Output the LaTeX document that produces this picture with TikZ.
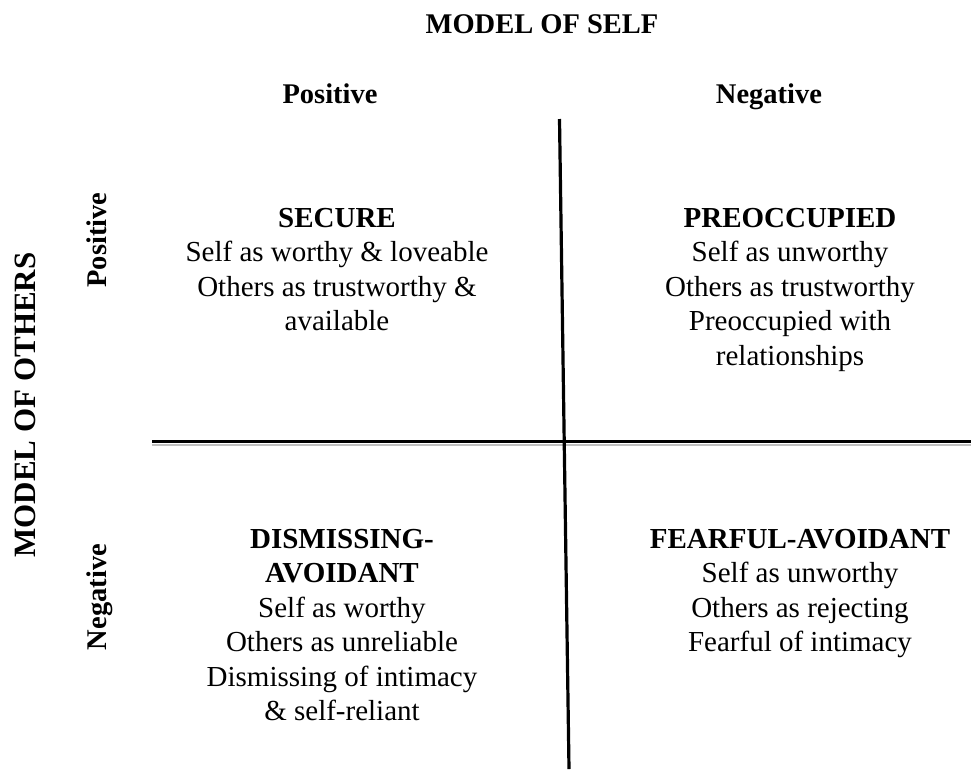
\documentclass[tikz,border=0pt]{standalone}
\usepackage{fontspec}
\setmainfont{Liberation Serif}
\begin{document}
\begin{tikzpicture}[x=1pt,y=-1pt,
  lbl/.style={inner sep=0pt, font=\fontsize{29}{34.5}\selectfont, align=center},
  hd/.style={inner sep=0pt, font=\fontsize{28.5}{34.5}\selectfont\bfseries, align=center},
  bighd/.style={inner sep=0pt, font=\fontsize{31}{36}\selectfont\bfseries, align=center},
  axisline/.style={line width=3.2pt, black},
  shade/.style={line width=1.5pt, black!25}]
\useasboundingbox (0,0) rectangle (971,769);
\node[hd, anchor=base] (title) at (542,33) {MODEL OF SELF};
\node[hd, anchor=base] (spos) at (330,103) {Positive};
\node[hd, anchor=base] (sneg) at (769,103) {Negative};
\node[bighd, anchor=base, rotate=90] (otitle) at (35,405) {MODEL OF OTHERS};
\node[hd, anchor=base, rotate=90] (opos) at (106,240) {Positive};
\node[hd, anchor=base, rotate=90] (oneg) at (106,597) {Negative};
% multi-line nodes: base anchor = baseline of last line
\node[lbl, anchor=base] (secure) at (337,330.5) {\textbf{SECURE}\\Self as worthy \& loveable\\Others as trustworthy \&\\available};
\node[lbl, anchor=base] (preocc) at (790,365) {\textbf{PREOCCUPIED}\\Self as unworthy\\Others as trustworthy\\Preoccupied with\\relationships};
\node[lbl, anchor=base] (dism) at (342,720.5) {\textbf{DISMISSING-}\\\textbf{AVOIDANT}\\Self as worthy\\Others as unreliable\\Dismissing of intimacy\\\& self-reliant};
\node[lbl, anchor=base] (fear) at (800,651.5) {\textbf{FEARFUL-AVOIDANT}\\Self as unworthy\\Others as rejecting\\Fearful of intimacy};
\coordinate (hl) at (152,441.5);
\coordinate (hr) at (971,441.5);
\coordinate (hls) at (152,445);
\coordinate (hrs) at (971,445);
\coordinate (vt) at (559.5,119);
\coordinate (vb) at (569,769);
\draw[shade] (hls) -- (hrs);
\draw[axisline] (hl) -- (hr);
\draw[axisline] (vt) -- (vb);
\end{tikzpicture}
\end{document}
